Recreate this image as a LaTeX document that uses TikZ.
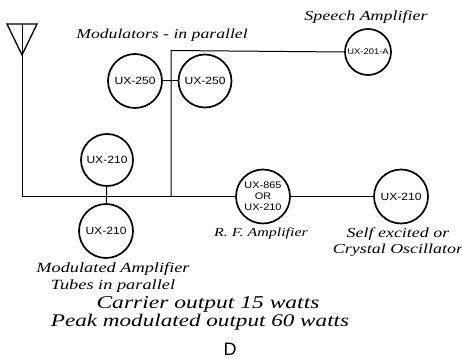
\documentclass[tikz,border=0pt]{standalone}
\usepackage{fontspec}
\setmainfont{Liberation Serif}[ItalicFeatures={FakeStretch=1.3}]
\newfontfamily\tubefont{Liberation Sans}[FakeStretch=1.15,BoldFont=*,AutoFakeBold=0.6]
\newfontfamily\letterfont{Liberation Sans}
\newcommand{\fs}[2]{\fontsize{#1}{#2}\selectfont}
\tikzset{
  tube/.style={circle,draw=black,line width=1.7pt,inner sep=0pt,minimum size=#1,font=\tubefont\fs{10.5}{10.5},align=center,text=black},
  wire/.style={draw=black,line width=1pt},
  caption/.style={inner sep=0pt,align=center,text=black}
}
\begin{document}
\begin{tikzpicture}[x=1pt,y=-1pt]
\useasboundingbox (0,0) rectangle (462,358);
\node[tube=54pt] (m1) at (135,81) {UX-250};
\node[tube=53pt] (m2) at (205,81) {UX-250};
\node[tube=46pt,font=\tubefont\fs{8.2}{8.2}] (sp) at (368,52) {UX-201-A};
\node[tube=52pt] (a1) at (107,160) {UX-210};
\node[tube=54pt] (a2) at (106,231) {UX-210};
\node[tube=54pt,font=\tubefont\fs{9.5}{11}] (rf) at (263,196.5) {UX-865\\OR\\UX-210};
\node[tube=54pt] (os) at (401,196.5) {UX-210};
\coordinate (tl) at (7,24);
\coordinate (tr) at (37,24);
\coordinate (ap) at (22,55);
\coordinate (tm) at (22,24);
\coordinate (cor) at (22,196.5);
\coordinate (ja) at (106,196.5);
\coordinate (jb) at (171,196.5);
\coordinate (jt) at (171,50.5);
\draw[line width=1.3pt] (tl) -- (tr) -- (ap) -- cycle;
\draw[line width=.8pt] (tm) -- (ap);
\draw[wire] (ap) -- (cor) -- (ja) -- (jb) -- (rf.west);
\draw[wire] (jb) -- (jt) -- (sp.west);
\draw[wire] (m1) -- (m2);
\draw[wire] (a1) -- (a2);
\draw[wire] (rf) -- (os);
\node[caption,font=\itshape\fs{13.6}{14}] (t1) at (162,35) {Modulators - in parallel};
\node[caption,font=\itshape\fs{13.8}{14}] (t2) at (366,17) {Speech Amplifier};
\node[caption,font=\itshape\fs{12.3}{13}] (t3) at (261,233) {R. F. Amplifier};
\node[caption,font=\itshape\fs{13.8}{16}] (t4) at (398,242) {Self excited or\\Crystal Oscillator};
\node[caption,font=\itshape\fs{14.1}{17}] (t5) at (113,277.5) {Modulated Amplifier\\Tubes in parallel};
\node[caption,font=\itshape\fs{18.1}{18}] (t6) at (208,304) {Carrier output 15 watts};
\node[caption,font=\itshape\fs{17.8}{18}] (t7) at (200,322) {Peak modulated output 60 watts};
\node[inner sep=0pt,font=\letterfont\fs{18}{18}] (t8) at (230,349) {D};
\end{tikzpicture}
\end{document}
